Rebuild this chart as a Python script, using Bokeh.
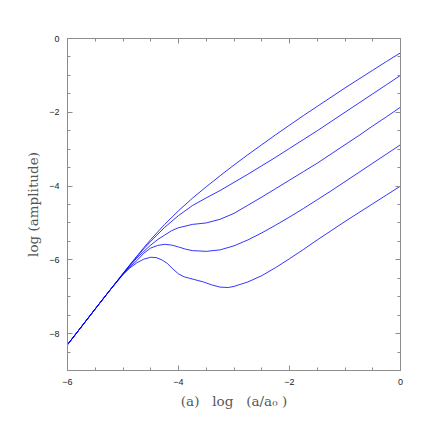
from bokeh.plotting import figure
from bokeh.models import LinearAxis, FixedTicker, Range1d
from bokeh.embed import file_html
from bokeh.resources import INLINE

# ---- data ----
x1 = [-6, -5.5, -5.25, -5, -4.875, -4.75, -4.625, -4.5, -4.25, -4, -3.75, -3.5, -3.25, -3, -2.75, -2.5,
      -2.25, -2, -1.75, -1.5, -1.25, -1, -0.75, -0.5, -0.25, 0]
y1 = [-8.3, -7.33, -6.85, -6.37, -6.13, -5.9, -5.67, -5.45, -5.04, -4.67, -4.33, -4.02, -3.72, -3.43, -3.15, -2.88,
      -2.61, -2.35, -2.09, -1.84, -1.59, -1.34, -1.1, -0.86, -0.62, -0.39]

x2 = [-6, -5.5, -5.25, -5, -4.875, -4.75, -4.625, -4.5, -4.25, -4, -3.75, -3.5, -3.25, -3, -2.75, -2.5,
      -2.25, -2, -1.75, -1.5, -1.25, -1, -0.75, -0.5, -0.25, 0]
y2 = [-8.3, -7.33, -6.85, -6.37, -6.14, -5.92, -5.7, -5.5, -5.12, -4.8, -4.53, -4.32, -4.12, -3.9, -3.68, -3.45,
      -3.22, -2.98, -2.74, -2.5, -2.25, -2.0, -1.75, -1.5, -1.25, -1.0]

x3 = [-6, -5.5, -5.25, -5, -4.875, -4.75, -4.625, -4.5, -4.375, -4.25, -4.125, -4, -3.75, -3.5, -3.25, -3,
      -2.75, -2.5, -2.25, -2, -1.75, -1.5, -1.25, -1, -0.75, -0.5, -0.25, 0]
y3 = [-8.3, -7.33, -6.85, -6.38, -6.16, -5.95, -5.77, -5.6, -5.45, -5.33, -5.21, -5.13, -5.04, -5.0, -4.9, -4.74,
      -4.52, -4.3, -4.07, -3.84, -3.61, -3.38, -3.13, -2.88, -2.63, -2.37, -2.12, -1.86]

x4 = [-6, -5.5, -5.25, -5, -4.875, -4.75, -4.625, -4.5, -4.375, -4.25, -4.125, -4, -3.875, -3.75, -3.5, -3.25,
      -3, -2.75, -2.5, -2.25, -2, -1.75, -1.5, -1.25, -1, -0.75, -0.5, -0.25, 0]
y4 = [-8.3, -7.33, -6.85, -6.39, -6.19, -6.02, -5.82, -5.68, -5.61, -5.58, -5.6, -5.65, -5.71, -5.75, -5.77, -5.73,
      -5.62, -5.46, -5.27, -5.06, -4.84, -4.61, -4.37, -4.13, -3.88, -3.63, -3.38, -3.13, -2.88]

x5 = [-6, -5.5, -5.25, -5, -4.875, -4.75, -4.625, -4.5, -4.4, -4.3, -4.2, -4.1, -4.0, -3.9, -3.8, -3.7,
      -3.55, -3.4, -3.25, -3.1, -3.0, -2.75, -2.5, -2.25, -2, -1.75, -1.5, -1.25, -1, -0.75, -0.5, -0.25, 0]
y5 = [-8.3, -7.33, -6.85, -6.4, -6.22, -6.08, -5.98, -5.93, -5.94, -6.0, -6.1, -6.25, -6.38, -6.46, -6.5, -6.54,
      -6.6, -6.68, -6.74, -6.75, -6.72, -6.6, -6.43, -6.21, -5.97, -5.72, -5.46, -5.21, -4.96, -4.72, -4.48, -4.24, -4.0]

series_x = [x1, x2, x3, x4, x5]
series_y = [y1, y2, y3, y4, y5]

x_major = [-6, -4, -2, 0]
x_minor = [-6, -5.5, -5, -4.5, -4, -3.5, -3, -2.5, -2, -1.5, -1, -0.5, 0]
y_major = [-8, -6, -4, -2, 0]
y_minor = [-9, -8.5, -8, -7.5, -7, -6.5, -6, -5.5, -5, -4.5, -4, -3.5, -3, -2.5, -2, -1.5, -1, -0.5, 0]

x_label = "(a)\u00a0\u00a0\u00a0log\u00a0\u00a0\u00a0(a/a\u2080\u00a0)"
y_label = "log (amplitude)"

# ---- figure ----
p = figure(width=436, height=436,
           x_range=Range1d(-6, 0), y_range=Range1d(-9, 0),
           output_backend="svg", toolbar_location=None,
           min_border_left=67, min_border_right=36,
           min_border_top=38, min_border_bottom=66)
p.grid.visible = False
p.outline_line_color = "#8c8c8c"
p.outline_line_width = 1
p.background_fill_color = "white"
p.border_fill_color = "white"

for xs, ys in zip(series_x, series_y):
    p.line(xs, ys, line_color="blue", line_width=0.8)

axis_color = "#8c8c8c"


def style_axis(ax, major, minor, show_labels):
    ax.ticker = FixedTicker(ticks=major, minor_ticks=minor)
    ax.axis_line_color = axis_color
    ax.major_tick_line_color = axis_color
    ax.minor_tick_line_color = axis_color
    ax.major_tick_in = 5
    ax.major_tick_out = 0
    ax.minor_tick_in = 3
    ax.minor_tick_out = 0
    if show_labels:
        ax.major_label_text_font = "Liberation Sans"
        ax.major_label_text_font_size = "9px"
        ax.major_label_text_color = "#222222"
    else:
        ax.major_label_overrides = {t: "" for t in major}


xb = p.xaxis[0]
style_axis(xb, x_major, x_minor, True)
xb.major_label_standoff = 8
xb.axis_label = x_label
xb.axis_label_text_font = "DejaVu Serif"
xb.axis_label_text_font_style = "normal"
xb.axis_label_text_font_size = "13.5px"
xb.axis_label_text_color = "#555555"
xb.axis_label_standoff = 5

yl = p.yaxis[0]
style_axis(yl, y_major, y_minor, True)
yl.major_label_standoff = 8
yl.major_label_orientation = "horizontal"
yl.axis_label = y_label
yl.axis_label_text_font = "DejaVu Serif"
yl.axis_label_text_font_style = "normal"
yl.axis_label_text_font_size = "13.5px"
yl.axis_label_text_color = "#555555"
yl.axis_label_standoff = 5

top_ax = LinearAxis()
style_axis(top_ax, x_major, x_minor, False)
p.add_layout(top_ax, "above")

right_ax = LinearAxis()
style_axis(right_ax, y_major, y_minor, False)
p.add_layout(right_ax, "right")

open("out.html", "w").write(file_html(p, INLINE))
